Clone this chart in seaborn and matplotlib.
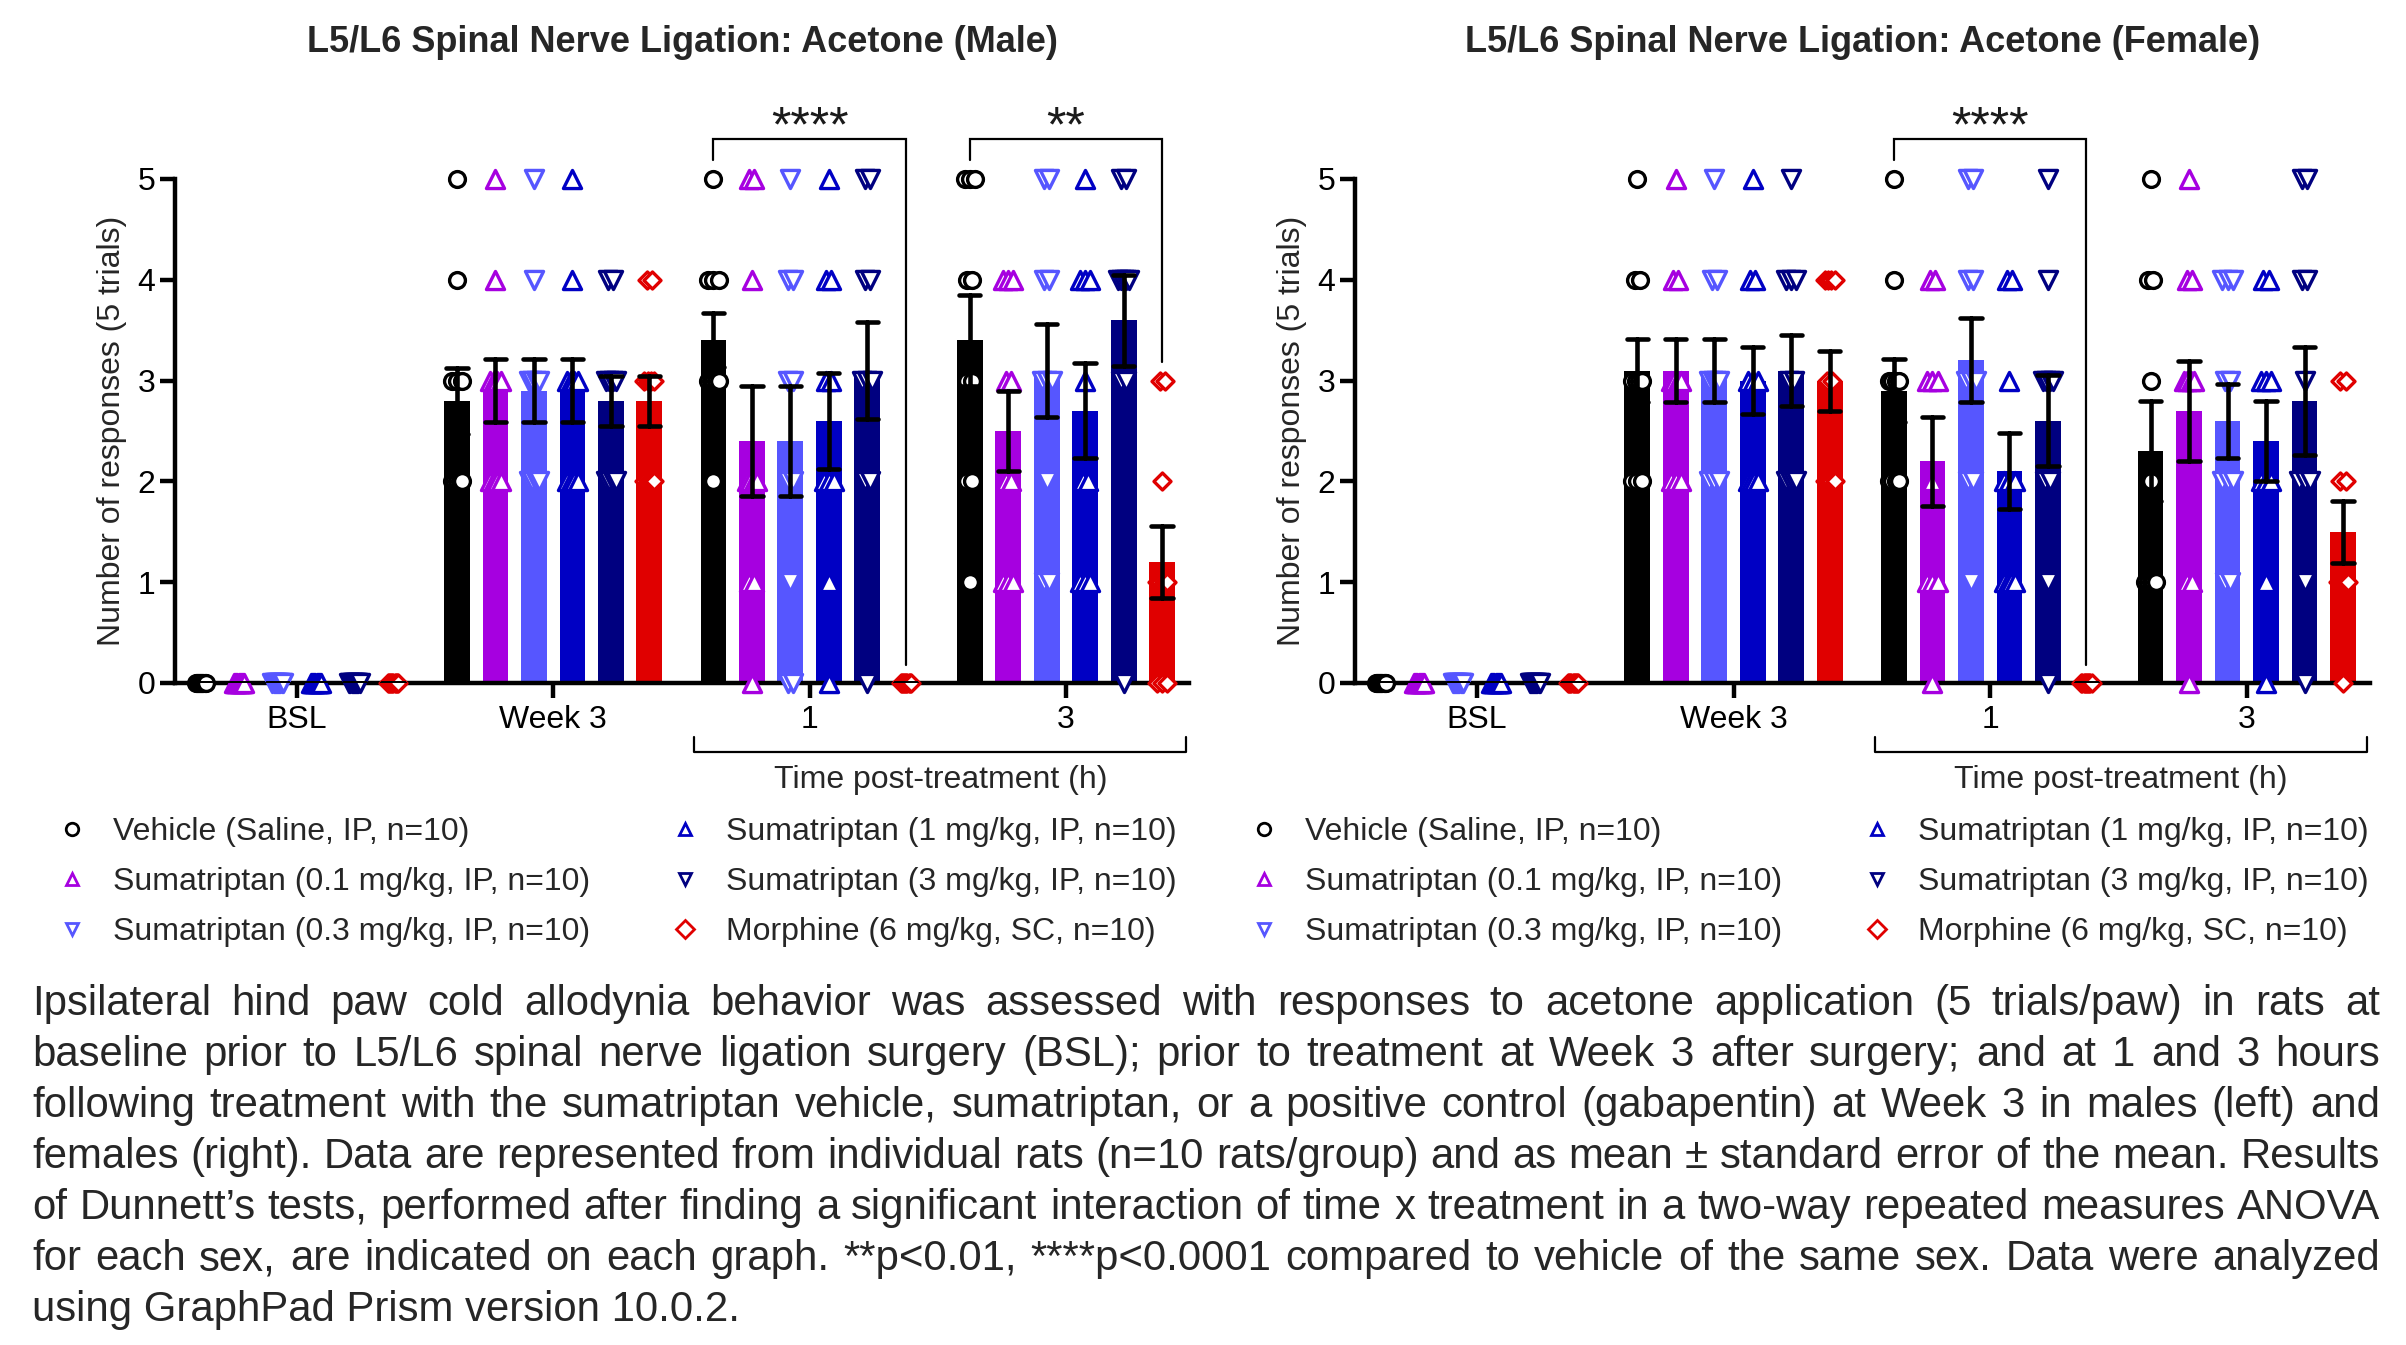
import numpy as np
import pandas as pd
import matplotlib
matplotlib.use("Agg")
import matplotlib.pyplot as plt
from matplotlib.lines import Line2D
import seaborn as sns

times = ["BSL", "Week 3", "1", "3"]
treatments = [
    "Vehicle (Saline, IP, n=10)",
    "Sumatriptan (0.1 mg/kg, IP, n=10)",
    "Sumatriptan (0.3 mg/kg, IP, n=10)",
    "Sumatriptan (1 mg/kg, IP, n=10)",
    "Sumatriptan (3 mg/kg, IP, n=10)",
    "Morphine (6 mg/kg, SC, n=10)",
]
colors = ["#000000", "#A600E0", "#5656FF", "#0000C4", "#000080", "#E00000"]
markers = ["o", "^", "v", "^", "v", "D"]
marker_sizes = [130, 170, 170, 170, 170, 75]

# individual rat scores (responses out of 5), one list per time point: BSL, Week 3, 1 h, 3 h
zeros = [0, 0, 0, 0, 0, 0, 0, 0, 0, 0]
male_vehicle = [zeros, [5, 4, 3, 3, 3, 2, 2, 2, 2, 2], [5, 4, 4, 4, 3, 3, 3, 3, 3, 2], [5, 5, 5, 4, 4, 3, 3, 2, 2, 1]]
male_s01 = [zeros, [5, 4, 3, 3, 3, 3, 2, 2, 2, 2], [5, 5, 4, 2, 2, 2, 2, 1, 1, 0], [4, 4, 4, 3, 3, 2, 2, 1, 1, 1]]
male_s03 = [zeros, [5, 4, 3, 3, 3, 3, 2, 2, 2, 2], [5, 4, 4, 3, 3, 2, 2, 1, 0, 0], [5, 5, 4, 4, 3, 3, 3, 2, 1, 1]]
male_s1 = [zeros, [5, 4, 3, 3, 3, 3, 2, 2, 2, 2], [5, 4, 4, 3, 3, 2, 2, 2, 1, 0], [5, 4, 4, 4, 3, 2, 2, 1, 1, 1]]
male_s3 = [zeros, [4, 4, 3, 3, 3, 3, 2, 2, 2, 2], [5, 5, 4, 4, 3, 3, 3, 2, 2, 0], [5, 5, 4, 4, 4, 4, 4, 3, 3, 0]]
male_morphine = [zeros, [4, 4, 3, 3, 3, 3, 2, 2, 2, 2], zeros, [3, 3, 2, 1, 1, 1, 1, 0, 0, 0]]

female_vehicle = [zeros, [5, 4, 4, 3, 3, 3, 3, 2, 2, 2], [5, 4, 3, 3, 3, 3, 2, 2, 2, 2], [5, 4, 4, 3, 2, 1, 1, 1, 1, 1]]
female_s01 = [zeros, [5, 4, 4, 3, 3, 3, 3, 2, 2, 2], [4, 4, 3, 3, 3, 2, 1, 1, 1, 0], [5, 4, 4, 3, 3, 3, 3, 1, 1, 0]]
female_s03 = [zeros, [5, 4, 4, 3, 3, 3, 3, 2, 2, 2], [5, 5, 4, 4, 3, 3, 3, 2, 2, 1], [4, 4, 4, 3, 3, 2, 2, 2, 1, 1]]
female_s1 = [zeros, [5, 4, 4, 3, 3, 3, 2, 2, 2, 2], [4, 4, 3, 2, 2, 2, 1, 1, 1, 1], [4, 4, 3, 3, 3, 2, 2, 2, 1, 0]]
female_s3 = [zeros, [5, 4, 4, 4, 3, 3, 2, 2, 2, 2], [5, 4, 3, 3, 3, 3, 2, 2, 1, 0], [5, 5, 4, 4, 3, 2, 2, 2, 1, 0]]
female_morphine = [zeros, [4, 4, 4, 4, 3, 3, 2, 2, 2, 2], zeros, [3, 3, 2, 2, 1, 1, 1, 1, 1, 0]]

male_stars = [("1", "****"), ("3", "**")]
female_stars = [("1", "****")]

caption = [
    "Ipsilateral hind paw cold allodynia behavior was assessed with responses to acetone application (5 trials/paw) in rats at",
    "baseline prior to L5/L6 spinal nerve ligation surgery (BSL); prior to treatment at Week 3 after surgery; and at 1 and 3 hours",
    "following treatment with the sumatriptan vehicle, sumatriptan, or a positive control (gabapentin) at Week 3 in males (left) and",
    "females (right). Data are represented from individual rats (n=10 rats/group) and as mean \u00b1 standard error of the mean. Results",
    "of Dunnett\u2019s tests, performed after finding a significant interaction of time x treatment in a two-way repeated measures ANOVA",
    "for each sex, are indicated on each graph. **p<0.01, ****p<0.0001 compared to vehicle of the same sex. Data were analyzed",
    "using GraphPad Prism version 10.0.2.",
]

sns.set_theme(style="ticks")
plt.rcParams["font.family"] = ["Liberation Sans", "DejaVu Sans"]

W, H = 2406, 1345
FS = 23


def long_table(series):
    rows = []
    for name, per_time in zip(treatments, series):
        for t, vals in zip(times, per_time):
            for v in vals:
                rows.append({"time": t, "treatment": name, "value": v})
    return pd.DataFrame(rows)


def draw_panel(fig, ax, series, title, stars, legend_x):
    df = long_table(series)
    width = 0.9
    sns.barplot(data=df, x="time", y="value", hue="treatment", order=times,
                hue_order=treatments, palette=colors, saturation=1, errorbar="se",
                width=width, gap=0.33, capsize=0.5, linewidth=0, legend=False,
                err_kws={"color": "black", "linewidth": 3.3, "zorder": 4}, ax=ax)
    step = width / len(treatments)

    # individual animals, nudged sideways where they share a value
    for j, (name, col, mk, sz) in enumerate(zip(treatments, colors, markers, marker_sizes)):
        for i, t in enumerate(times):
            vals = df[(df.treatment == name) & (df.time == t)].value
            for v, k in vals.value_counts().items():
                spread = 0.02 * min(k - 1, 2)
                xs = i + (j - (len(treatments) - 1) / 2) * step + np.linspace(-spread / 2, spread / 2, k)
                ax.scatter(xs, np.full(k, v), marker=mk, s=sz, facecolor="white",
                           edgecolor=col, linewidth=2.4, zorder=3, clip_on=False)

    ax.set_xlim(-0.475, 3.48)
    ax.set_ylim(0, 5)
    ax.set_yticks(range(6))
    ax.set_xticks(range(len(times)))
    ax.set_xticklabels(times)
    ax.set_xlabel("")
    ax.set_ylabel("Number of responses (5 trials)", fontsize=FS, labelpad=8)
    ax.set_title(title, fontsize=26, fontweight="bold", y=(683 - 42) / 504, pad=0, va="center")
    sns.despine(ax=ax)
    for s in ["left", "bottom"]:
        ax.spines[s].set_linewidth(3.2)
        ax.spines[s].set_color("black")
    ax.tick_params(axis="both", length=11, width=3.2, color="black", labelsize=FS, labelcolor="black")
    ax.tick_params(axis="x", pad=5)
    ax.tick_params(axis="y", pad=3)

    # significance brackets: vehicle vs morphine at each post-treatment time
    top = 5.40
    for t, label in stars:
        i = times.index(t)
        x1 = i - 2.5 * step
        x2 = i + 2.5 * step
        veh = max(series[0][i])
        mor = max(series[-1][i])
        ax.plot([x1, x1, x2, x2], [veh + 0.19, top, top, mor + 0.18], color="black",
                lw=1.6, clip_on=False, solid_joinstyle="miter")
        ax.text((x1 + x2) / 2, top - 0.03, label, ha="center", va="baseline",
                fontsize=36, color="#1a1a1a")

    # bracket under the post-treatment time points
    bx1, bx2 = 1.55, 3.47
    ax.plot([bx1, bx1, bx2, bx2], [-0.536, -0.685, -0.685, -0.536], color="black",
            lw=1.6, clip_on=False)
    ax.text((bx1 + bx2) / 2, -0.96, "Time post-treatment (h)", ha="center", va="center",
            fontsize=FS)

    handles = [Line2D([], [], ls="none", marker=m, markersize=9, markerfacecolor="white",
                      markeredgecolor=c, markeredgewidth=2) for m, c in zip(markers, colors)]
    ax.legend(handles, treatments, ncol=2, loc="center left",
              bbox_to_anchor=(legend_x / W, 1 - 882 / H), bbox_transform=fig.transFigure,
              frameon=False, fontsize=FS, handlelength=1.0, handletextpad=0.78,
              columnspacing=2.47, labelspacing=0.62, borderpad=0, borderaxespad=0)


def justified_caption(fig, lines, x0, x1, y0, dy):
    r = fig.canvas.get_renderer()
    probe = [fig.text(0, 0, ln, fontsize=20) for ln in lines[:-1]]
    natural = max(p.get_window_extent(r).width for p in probe)
    for p in probe:
        p.remove()
    fs = 20 * (x1 - x0) * 0.995 / natural
    for n, ln in enumerate(lines):
        y = 1 - (y0 + n * dy) / H
        if n == len(lines) - 1:
            fig.text(x0 / W, y, ln, fontsize=fs, va="baseline")
            continue
        words = ln.split(" ")
        texts = [fig.text(0, y, w, fontsize=fs, va="baseline") for w in words]
        widths = [t.get_window_extent(r).width for t in texts]
        gap = (x1 - x0 - sum(widths)) / (len(words) - 1)
        x = x0
        for t, w in zip(texts, widths):
            t.set_x(x / W)
            x += w + gap


fig = plt.figure(figsize=(W / 100, H / 100), dpi=100)
ax_m = fig.add_axes([175 / W, 1 - 683 / H, 1014 / W, 504 / H])
ax_f = fig.add_axes([1355 / W, 1 - 683 / H, 1015 / W, 504 / H])

draw_panel(fig, ax_m, [male_vehicle, male_s01, male_s03, male_s1, male_s3, male_morphine],
           "L5/L6 Spinal Nerve Ligation: Acetone (Male)", male_stars, 56)
draw_panel(fig, ax_f, [female_vehicle, female_s01, female_s03, female_s1, female_s3, female_morphine],
           "L5/L6 Spinal Nerve Ligation: Acetone (Female)", female_stars, 1248)

justified_caption(fig, caption, 32, 2380, 1015, 51)

fig.savefig("out.png", dpi=100, facecolor="white")
plt.close(fig)
